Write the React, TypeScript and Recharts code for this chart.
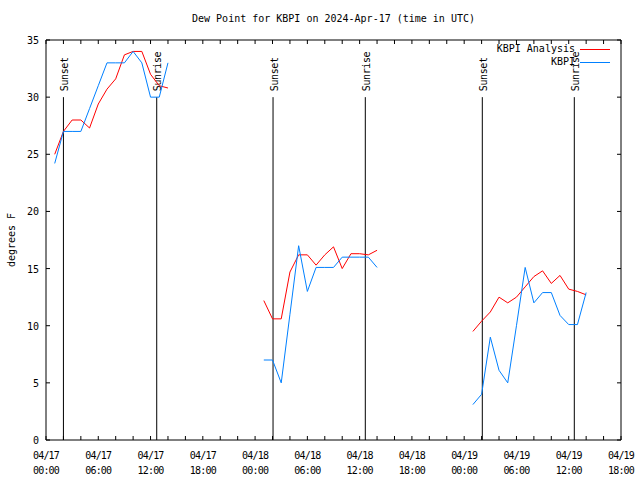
import React from "react";
import { LineChart, Line, XAxis, YAxis, ReferenceLine } from "recharts";

// hours after 2024-04-17 00:00 UTC
const HOURS = [
  1, 2, 3, 4, 5, 6, 7, 8, 9, 10, 11, 12, 13, 14,
  25, 26, 27, 28, 29, 30, 31, 32, 33, 34, 35, 36, 37, 38,
  49, 50, 51, 52, 53, 54, 55, 56, 57, 58, 59, 60, 61, 62,
];
const ANALYSIS = [
  25, 27, 28, 28, 27.3, 29.4, 30.7, 31.6, 33.7, 34, 34, 32, 31, 30.8,
  12.2, 10.6, 10.6, 14.7, 16.2, 16.2, 15.3, 16.2, 16.9, 15.0, 16.3, 16.3, 16.2, 16.6,
  9.5, 10.4, 11.2, 12.5, 12.0, 12.5, 13.4, 14.3, 14.8, 13.7, 14.4, 13.2, 13.0, 12.7,
];
const OBS = [
  24.2, 27, 27, 27, 29, 31, 33, 33, 33, 34, 33, 30, 30, 33,
  7.0, 7.0, 5.0, 11, 17.0, 13.0, 15.1, 15.1, 15.1, 16.0, 16.0, 16.0, 16.0, 15.1,
  3.1, 4.0, 9.0, 6.1, 5.0, 10, 15.1, 12.0, 12.9, 12.9, 10.9, 10.1, 10.1, 12.9,
];

const SUNSET_HOURS = [2.0, 26.06, 50.08];
const SUNRISE_HOURS = [12.71, 36.65, 60.64];
const SUN_LINE_TOP = 30;

const X_MIN = 0;
const X_MAX = 66;
const Y_MIN = 0;
const Y_MAX = 35;
const X_MINOR = [0, 2, 4, 6, 8, 10, 12, 14, 16, 18, 20, 22, 24, 26, 28, 30, 32, 34,
  36, 38, 40, 42, 44, 46, 48, 50, 52, 54, 56, 58, 60, 62, 64, 66];
const X_MAJOR = [0, 6, 12, 18, 24, 30, 36, 42, 48, 54, 60, 66];
const X_DATES = ["04/17", "04/17", "04/17", "04/17", "04/18", "04/18", "04/18", "04/18",
  "04/19", "04/19", "04/19", "04/19"];
const X_TIMES = ["00:00", "06:00", "12:00", "18:00", "00:00", "06:00", "12:00", "18:00",
  "00:00", "06:00", "12:00", "18:00"];
const Y_TICKS = [0, 5, 10, 15, 20, 25, 30, 35];

const SERIES = [
  { key: "analysis", label: "KBPI Analysis", color: "#ff0000" },
  { key: "obs", label: "KBPI", color: "#0080ff" },
];

const FONT = "'DejaVu Sans Mono', monospace";
const TICK = 4;
const PLOT_W = 575;
const PLOT_H = 400;
// tick length of the mirrored top/right ticks, in data units
const TICK_X = (TICK * (X_MAX - X_MIN)) / PLOT_W;
const TICK_Y = (TICK * (Y_MAX - Y_MIN)) / PLOT_H;

type Row = { hour: number; analysis: number | null; obs: number | null };
const rows: Row[] = [];
HOURS.forEach((h, i) => {
  // break the lines between the separate runs
  if (i > 0 && h - HOURS[i - 1] > 1) {
    rows.push({ hour: (h + HOURS[i - 1]) / 2, analysis: null, obs: null });
  }
  rows.push({ hour: h, analysis: ANALYSIS[i], obs: OBS[i] });
});

function BottomTick({ x, y, payload }: any) {
  const idx = X_MAJOR.indexOf(payload.value);
  return (
    <g>
      <line x1={x} y1={y} x2={x} y2={y - TICK} stroke="#000" />
      {idx >= 0 && (
        <text x={x} y={y} textAnchor="middle" fontFamily={FONT} fontSize={10}
          letterSpacing={-0.8} fill="#000">
          <tspan x={x} dy={19}>{X_DATES[idx]}</tspan>
          <tspan x={x} dy={15}>{X_TIMES[idx]}</tspan>
        </text>
      )}
    </g>
  );
}

function LeftTick({ x, y, payload }: any) {
  return (
    <g>
      <line x1={x} y1={y} x2={x + TICK} y2={y} stroke="#000" />
      <text x={x - 7} y={y} dy={4} textAnchor="end" fontFamily={FONT} fontSize={10} fill="#000">
        {payload.value}
      </text>
    </g>
  );
}

function SunLabel({ viewBox, text }: any) {
  const cx = viewBox.x + 4.5;
  const cy = viewBox.y - 6;
  return (
    <text x={cx} y={cy} transform={`rotate(-90 ${cx} ${cy})`} textAnchor="start"
      fontFamily={FONT} fontSize={10} letterSpacing={-0.4} fill="#000">
      {text}
    </text>
  );
}

export default function App() {
  return (
    <div style={{ position: "absolute", left: 0, top: 0, width: 640, height: 480, background: "#fff" }}>
      <div style={{
        position: "absolute", left: 46, width: PLOT_W, top: 13, textAlign: "center",
        fontFamily: FONT, fontSize: 10, lineHeight: "12px",
      }}>
        Dew Point for KBPI on 2024-Apr-17 (time in UTC)
      </div>
      <div style={{
        position: "absolute", left: 12, top: 240, fontFamily: FONT, fontSize: 10,
        lineHeight: "12px", whiteSpace: "nowrap", transform: "translate(-50%, -50%) rotate(-90deg)",
      }}>
        degrees F
      </div>

      <LineChart width={640} height={480} data={rows}
        margin={{ top: 40, right: 19, bottom: 10, left: 0 }}>
        <XAxis dataKey="hour" type="number" domain={[X_MIN, X_MAX]} ticks={X_MINOR}
          interval={0} tickSize={0} tickMargin={0} tickLine={false} height={30}
          axisLine={{ stroke: "#000" }} tick={<BottomTick />} allowDataOverflow />
        <YAxis type="number" domain={[Y_MIN, Y_MAX]} ticks={Y_TICKS} interval={0}
          tickSize={0} tickMargin={0} tickLine={false} width={46}
          axisLine={{ stroke: "#000" }} tick={<LeftTick />} allowDataOverflow />

        {/* top and right edges of the frame, with inward ticks */}
        <ReferenceLine stroke="#000" segment={[{ x: X_MIN, y: Y_MAX }, { x: X_MAX, y: Y_MAX }]} />
        <ReferenceLine stroke="#000" segment={[{ x: X_MAX, y: Y_MIN }, { x: X_MAX, y: Y_MAX }]} />
        {X_MINOR.map((h) => (
          <ReferenceLine key={"tt" + h} stroke="#000"
            segment={[{ x: h, y: Y_MAX - TICK_Y }, { x: h, y: Y_MAX }]} />
        ))}
        {Y_TICKS.map((v) => (
          <ReferenceLine key={"rt" + v} stroke="#000"
            segment={[{ x: X_MAX - TICK_X, y: v }, { x: X_MAX, y: v }]} />
        ))}

        {SUNSET_HOURS.map((h) => (
          <ReferenceLine key={"ss" + h} stroke="#000"
            segment={[{ x: h, y: Y_MIN }, { x: h, y: SUN_LINE_TOP }]}
            label={<SunLabel text="Sunset" />} />
        ))}
        {SUNRISE_HOURS.map((h) => (
          <ReferenceLine key={"sr" + h} stroke="#000"
            segment={[{ x: h, y: Y_MIN }, { x: h, y: SUN_LINE_TOP }]}
            label={<SunLabel text="Sunrise" />} />
        ))}

        {SERIES.map((s) => (
          <Line key={s.key} type="linear" dataKey={s.key} stroke={s.color} strokeWidth={1}
            dot={false} connectNulls={false} isAnimationActive={false} />
        ))}
      </LineChart>

      {SERIES.map((s, i) => (
        <React.Fragment key={s.key}>
          <div style={{
            position: "absolute", right: 65, top: 43 + i * 13, fontFamily: FONT, fontSize: 10,
            lineHeight: "12px", whiteSpace: "nowrap",
          }}>
            {s.label}
          </div>
          <div style={{
            position: "absolute", left: 580, width: 30, top: 49 + i * 13, height: 0,
            borderTop: `1px solid ${s.color}`,
          }} />
        </React.Fragment>
      ))}
    </div>
  );
}
